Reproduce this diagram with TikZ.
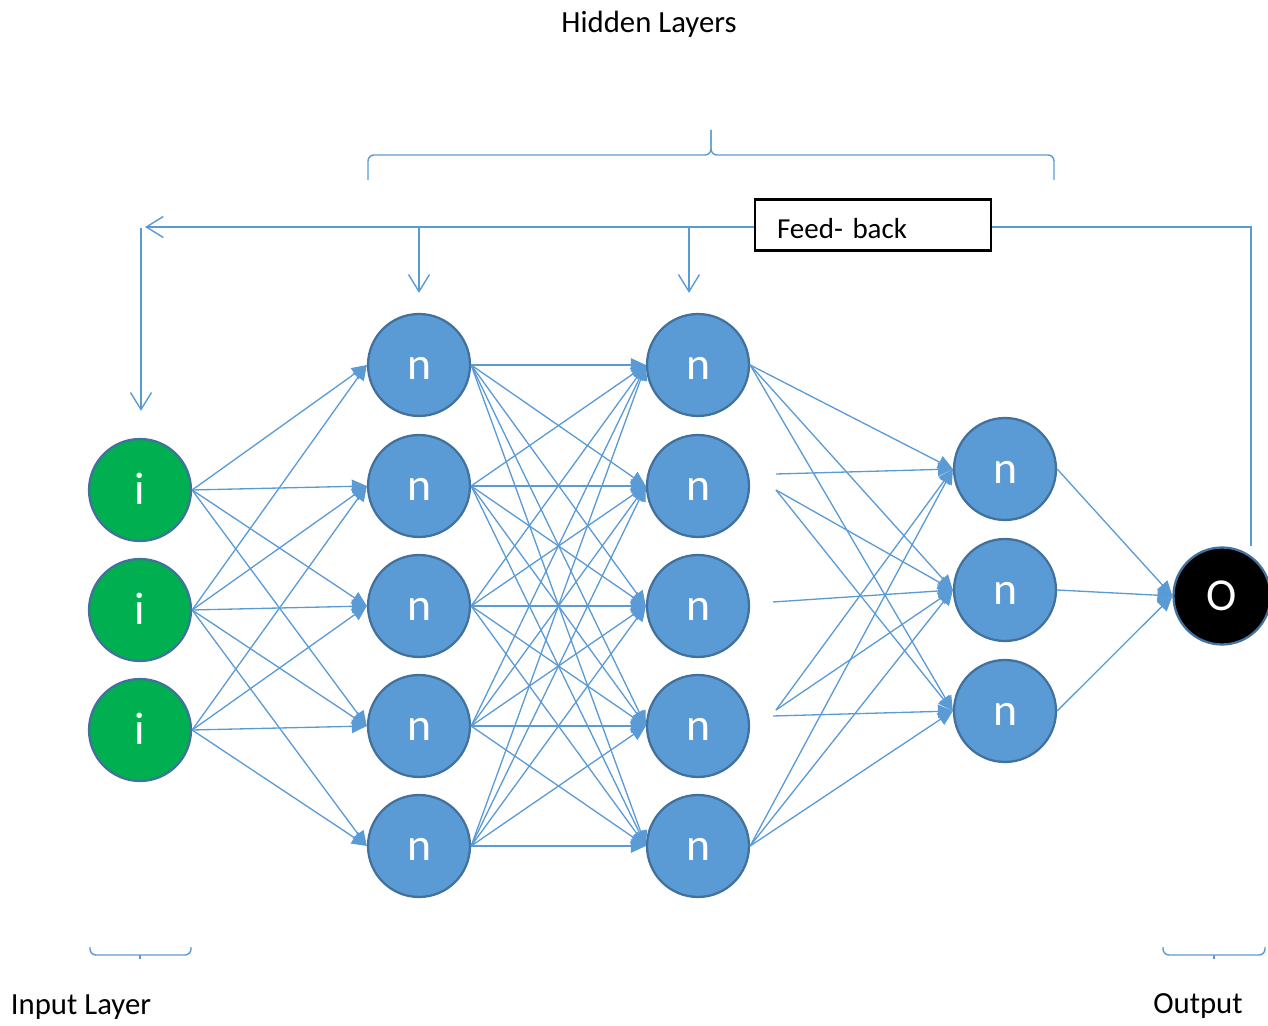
\documentclass[tikz,border=0pt]{standalone}
\usepackage{fontspec}
\setmainfont{Carlito}
\usetikzlibrary{arrows.meta, positioning}

\definecolor{netblue}{HTML}{5B9BD5}
\definecolor{netedge}{HTML}{41719C}
\definecolor{netgreen}{HTML}{00B050}

\begin{document}
\begin{tikzpicture}[x=0.02cm, y=-0.02cm,
    neuron/.style={draw=netedge, circle, line width=1.3pt, minimum size=2.04cm, inner sep=0pt, text height=16.5pt, text depth=0pt, text=white, font=\fontsize{26}{30}\selectfont},
    inputn/.style={neuron, fill=netgreen},
    hiddenn/.style={neuron, fill=netblue},
    outputn/.style={neuron, fill=black, minimum size=1.94cm},
    link/.style={draw=netblue, line width=0.75pt, -{Triangle[length=0.3cm, width=0.27cm]}},
    fbline/.style={draw=netblue, line width=0.8pt},
    fbarrow/.style={fbline, -{Straight Barb[length=0.34cm, width=0.42cm]}},
    brace/.style={draw=netblue, line width=0.8pt, rounded corners=0.12cm},
    layertext/.style={font=\fontsize{17.5}{21}\selectfont}]
    \useasboundingbox (0,0) rectangle (1268,1026);

    % Input layer
    \node (in1) [inputn] at (140,490) {i};
    \node (in2) [inputn] at (140,610) {i};
    \node (in3) [inputn] at (140,730) {i};

    % First hidden layer
    \node (ha1) [hiddenn] at (419,365) {n};
    \node (ha2) [hiddenn] at (419,486) {n};
    \node (ha3) [hiddenn] at (419,606) {n};
    \node (ha4) [hiddenn] at (419,726) {n};
    \node (ha5) [hiddenn] at (419,846) {n};

    % Second hidden layer
    \node (hb1) [hiddenn] at (698,365) {n};
    \node (hb2) [hiddenn] at (698,486) {n};
    \node (hb3) [hiddenn] at (698,606) {n};
    \node (hb4) [hiddenn] at (698,726) {n};
    \node (hb5) [hiddenn] at (698,846) {n};

    % Third hidden layer
    \node (hc1) [hiddenn] at (1005,469) {n};
    \node (hc2) [hiddenn] at (1005,590) {n};
    \node (hc3) [hiddenn] at (1005,711) {n};

    % Output
    \node (out) [outputn] at (1222,596) {O};

    % Weights
    \foreach \s/\t in {1/1,1/2,1/3,1/4,2/1,2/2,2/3,2/4,2/5,3/2,3/3,3/4,3/5}
        \draw[link] (in\s.east) -- (ha\t.west);
    \foreach \s in {1,...,5}
        \foreach \t in {1,...,5}
            \draw[link] (ha\s.east) -- (hb\t.west);
    \foreach \t in {1,2,3} {
        \draw[link] (hb1.east) -- (hc\t.west);
        \draw[link] (hb5.east) -- (hc\t.west);
    }
    \coordinate (f1) at (776,474);
    \coordinate (f2) at (776,490);
    \coordinate (f3) at (773,602);
    \coordinate (f4) at (776,710);
    \coordinate (f5) at (773,716);
    \foreach \s/\t in {f1/1,f2/2,f2/3,f3/2,f4/1,f4/2,f5/3}
        \draw[link] (\s) -- (hc\t.west);
    \foreach \s in {1,2,3}
        \draw[link] (hc\s.east) -- (out.west);

    % Feed-back loop
    \node (fbbox) [draw, line width=1.2pt, minimum width=4.72cm, minimum height=1.02cm, text width=3.84cm, inner xsep=0.44cm, align=left, font=\fontsize{16.5}{20}\selectfont, text height=15pt, text depth=0pt] at (873,225) {Feed- back};
    \coordinate (fbr) at (1251,227);
    \coordinate (fbl) at (145,227);
    \coordinate (fbv) at (141,228);
    \coordinate (fb1) at (419,227);
    \coordinate (fb2) at (689,227);
    \draw[fbline] (fbr |- out.north) -- (fbr) -- (fbbox.east |- fbr);
    \draw[fbarrow] (fbbox.west |- fbl) -- (fbl);
    \draw[fbarrow, shorten >=0.54cm] (fbv) -- (fbv |- in1.north);
    \draw[fbarrow, shorten >=0.4cm] (fb1) -- (ha1.north);
    \draw[fbarrow, shorten >=0.4cm] (fb2) -- (fb2 |- hb1.north);

    % Braces and captions
    \draw[brace] (368,180) -- (368,155) -- (711,155) -- (711,130);
    \draw[brace] (711,130) -- (711,155) -- (1054,155) -- (1054,180);
    \node (hidtext) [layertext] at (649,24) {Hidden Layers};

    \draw[brace] (90,947) -- (90,955) -- (191,955) -- (191,947);
    \draw[fbline] (140,955) -- (140,959);
    \node (intext) [layertext] at (81,1007) {Input Layer};

    \draw[brace] (1163,947) -- (1163,955) -- (1265,955) -- (1265,947);
    \draw[fbline] (1214,955) -- (1214,959);
    \node (outtext) [layertext] at (1198,1006) {Output};
\end{tikzpicture}
\end{document}
